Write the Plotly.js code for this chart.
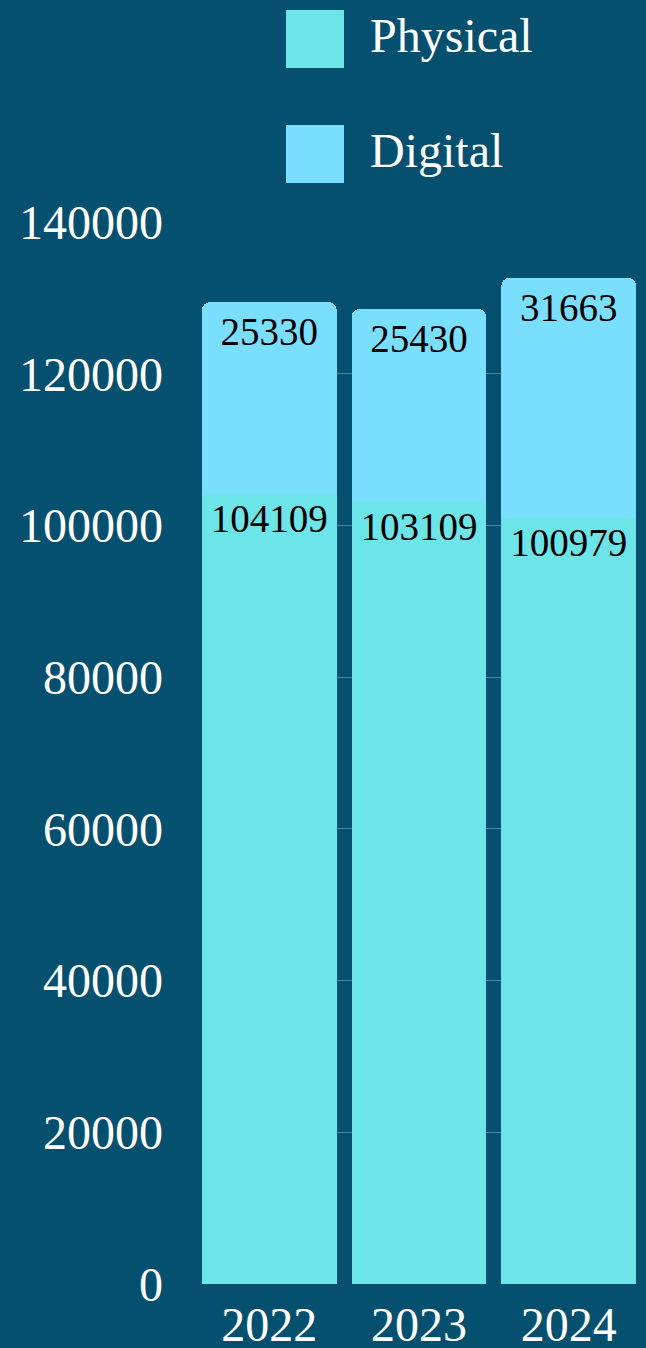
<!DOCTYPE html>
<html>
<head>
<meta charset="utf-8">
<script src="https://cdn.plot.ly/plotly-3.0.1.min.js"></script>
<style>
html,body{margin:0;padding:0;background:#05506F;}
#chart{width:646px;height:1348px;}
</style>
</head>
<body>
<div id="chart"></div>
<script>
const years = ["2022", "2023", "2024"];
const physical = [104109, 103109, 100979];
const digital = [25330, 25430, 31663];
const seriesNames = ["Physical", "Digital"];
const seriesColors = ["#6BE5E8", "#7ADFFF"];

const FONT = "Liberation Serif, Times New Roman, serif";
const W = 646, H = 1348;
const M = {l: 202, r: 10, t: 222, b: 64};

const traces = [
  {
    type: "bar", name: seriesNames[0], x: years, y: physical,
    marker: {color: seriesColors[0]},
    text: physical.map(String), textposition: "inside", insidetextanchor: "end",
    textfont: {family: FONT, size: 39, color: "#000000"},
    constraintext: "none", hoverinfo: "x+y+name", showlegend: false
  },
  {
    type: "bar", name: seriesNames[1], x: years, y: digital,
    marker: {color: seriesColors[1]},
    text: digital.map(String), textposition: "inside", insidetextanchor: "end",
    textfont: {family: FONT, size: 39, color: "#000000"},
    constraintext: "none", hoverinfo: "x+y+name", showlegend: false
  }
];

// Manual legend (large swatches)
const shapes = [];
const annotations = [];
const legendTops = [10, 125];
seriesNames.forEach((nm, i) => {
  const top = legendTops[i];
  shapes.push({
    type: "rect", xref: "paper", yref: "paper",
    xsizemode: "pixel", ysizemode: "pixel", xanchor: 0, yanchor: 1,
    x0: 286 - M.l, x1: 344 - M.l,
    y0: M.t - top, y1: M.t - (top + 58),
    fillcolor: seriesColors[i], line: {width: 0}, layer: "above"
  });
  annotations.push({
    xref: "paper", yref: "paper", x: 0, y: 1,
    xshift: 368 - M.l, yshift: M.t - (top + 25),
    xanchor: "left", yanchor: "middle", showarrow: false,
    text: nm, font: {family: FONT, size: 48, color: "#FFFFFF"}
  });
});

const layout = {
  width: W, height: H,
  margin: M,
  paper_bgcolor: "#05506F",
  plot_bgcolor: "#05506F",
  barmode: "stack",
  bargap: 0.1,
  barcornerradius: 8,
  showlegend: false,
  font: {family: FONT, color: "#FFFFFF", size: 48},
  xaxis: {
    type: "category",
    range: [-0.45, 2.45],
    showgrid: false, zeroline: false, showline: false,
    ticks: "", ticklabelstandoff: 8,
    tickfont: {family: FONT, size: 48, color: "#FFFFFF"}
  },
  yaxis: {
    range: [0, 140000],
    tickvals: [0, 20000, 40000, 60000, 80000, 100000, 120000, 140000],
    ticktext: ["0", "20000", "40000", "60000", "80000", "100000", "120000", "140000"],
    showgrid: true, gridcolor: "#4E86A0", gridwidth: 1,
    zeroline: false, showline: false, ticks: "",
    ticklabelstandoff: 38,
    tickfont: {family: FONT, size: 48, color: "#FFFFFF"}
  },
  shapes: shapes,
  annotations: annotations
};

Plotly.newPlot("chart", traces, layout, {displayModeBar: false, staticPlot: true});
</script>
</body>
</html>
